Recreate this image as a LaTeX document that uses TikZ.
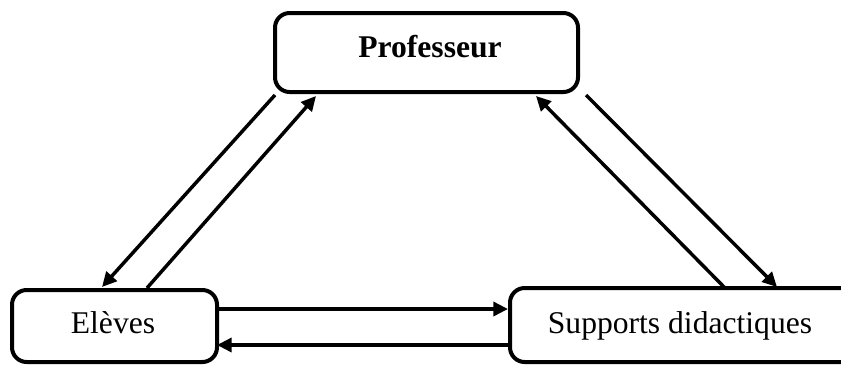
\documentclass[tikz,border=0pt]{standalone}
\usepackage{fontspec}
\setmainfont{Liberation Serif}
\usetikzlibrary{arrows.meta}
\begin{document}
\begin{tikzpicture}[x=0.75pt,y=-0.75pt,
  box/.style={draw,line width=3pt,rounded corners=11pt,inner sep=0pt,outer sep=0pt},
  lbl/.style={inner sep=0pt,anchor=base,font=\fontsize{23.7}{28}\selectfont},
  link/.style={line width=2.6pt,-{Triangle[length=11pt,width=10.5pt]}}]
\useasboundingbox (0,0) rectangle (841,365);
\clip (0,0) rectangle (841,365);

% the three partners
\node[box,minimum width=227.25pt,minimum height=59.25pt] (prof) at (426.5,52.5) {};
\node[box,minimum width=153.75pt,minimum height=54pt] (eleves) at (114.5,326) {};
\node[box,minimum width=300pt,minimum height=55.5pt] (supports) at (710,325) {};

\node[lbl,font=\fontsize{23.7}{28}\selectfont\bfseries] (profT) at (430,57) {Professeur};
\node[lbl] (elevesT) at (113,333) {Elèves};
\node[lbl] (supportsT) at (680,333) {Supports didactiques};

% Professeur <-> Elèves
\draw[link] ([shift={(0,3)}]prof.south west) -- ([shift={(90,-3)}]eleves.north west);
\draw[link] ([shift={(135,-2)}]eleves.north west) -- ([shift={(41,4)}]prof.south west);
% Professeur <-> Supports didactiques
\draw[link] ([shift={(215,0)}]supports.north west) -- ([shift={(261,4)}]prof.south west);
\draw[link] ([shift={(311,3)}]prof.south west) -- ([shift={(267,-1)}]supports.north west);
% Elèves <-> Supports didactiques
\draw[link] ([shift={(0,19)}]eleves.north east) -- ([shift={(-2,21)}]supports.north west);
\draw[link] ([shift={(0,57)}]supports.north west) -- ([shift={(0,55)}]eleves.north east);
\end{tikzpicture}
\end{document}
